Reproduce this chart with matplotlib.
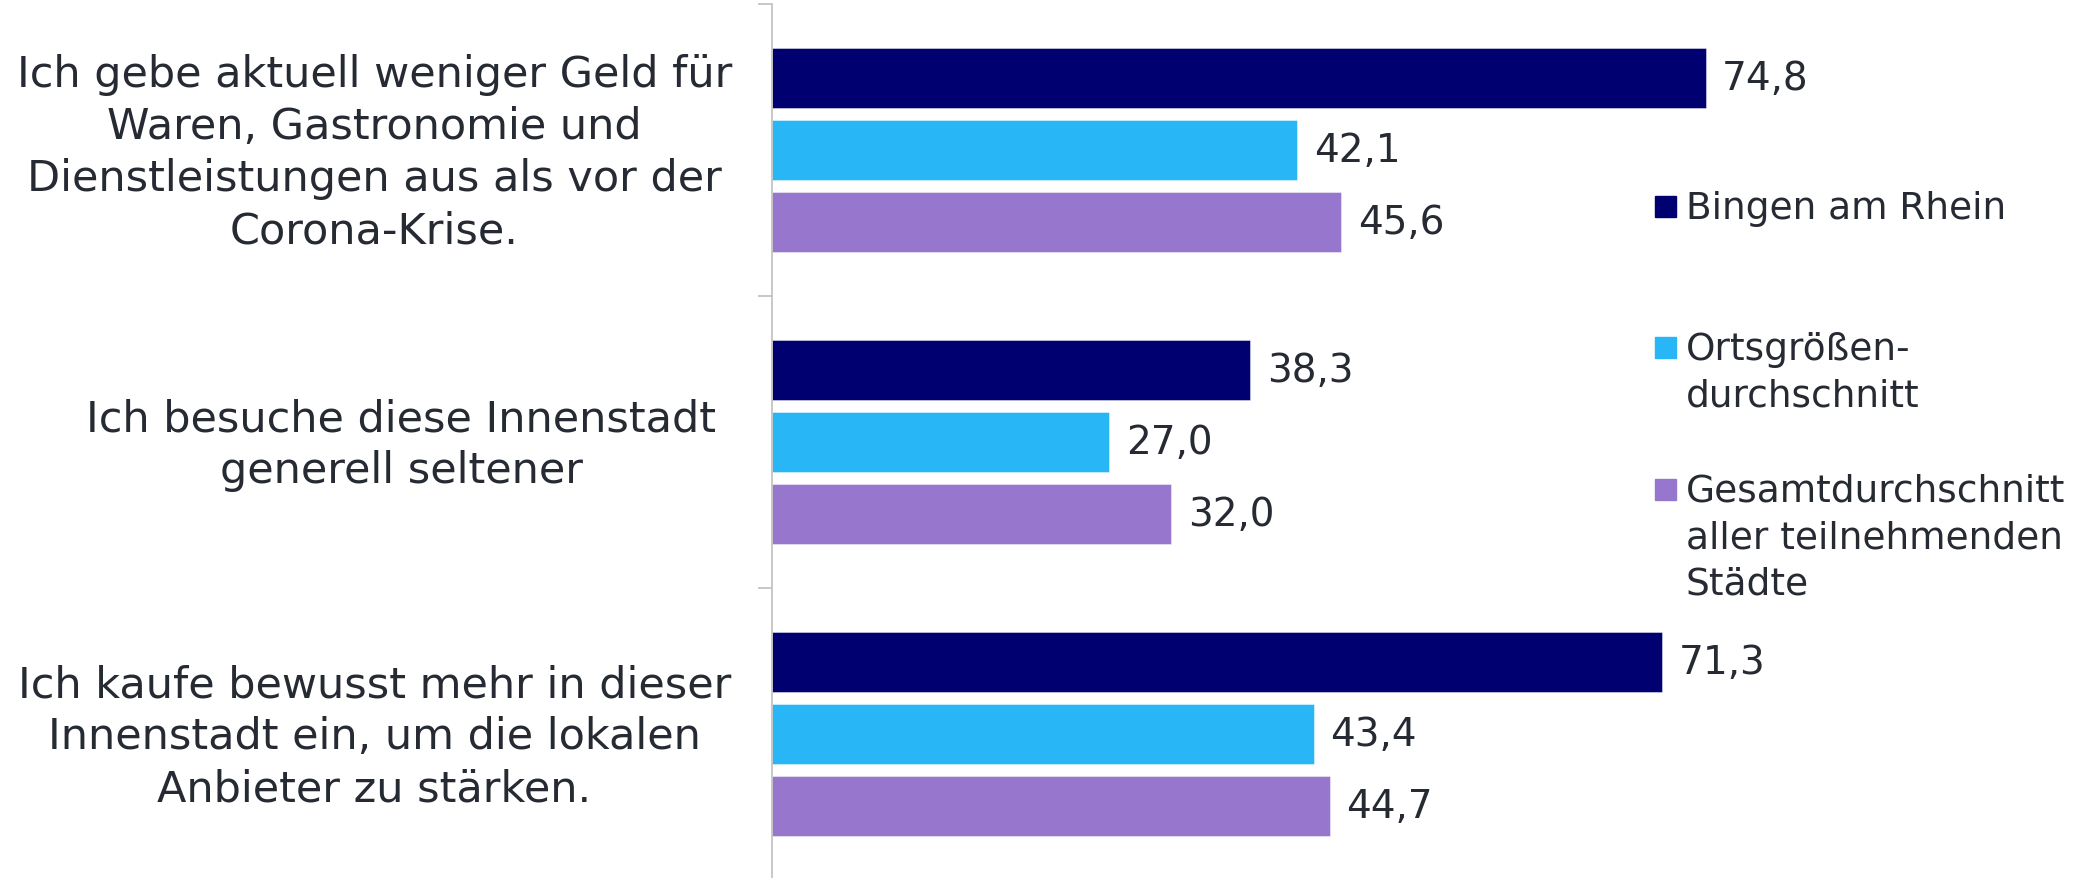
import matplotlib
matplotlib.use("Agg")
import matplotlib.pyplot as plt
import numpy as np
from matplotlib.transforms import blended_transform_factory, offset_copy

categories = [
    "Ich gebe aktuell weniger Geld für\nWaren, Gastronomie und\nDienstleistungen aus als vor der\nCorona-Krise.",
    "Ich besuche diese Innenstadt\ngenerell seltener",
    "Ich kaufe bewusst mehr in dieser\nInnenstadt ein, um die lokalen\nAnbieter zu stärken.",
]
series_names = [
    "Bingen am Rhein",
    "Ortsgrößen-\ndurchschnitt",
    "Gesamtdurchschnitt\naller teilnehmenden\nStädte",
]
bingen = [74.8, 38.3, 71.3]
ortsgroesse = [42.1, 27.0, 43.4]
gesamt = [45.6, 32.0, 44.7]
series_values = [bingen, ortsgroesse, gesamt]
colors = ["#000070", "#29B6F6", "#9777CD"]
text_color = "#262A33"

W, H = 2082, 879
fig = plt.figure(figsize=(W / 100, H / 100), dpi=100)
ax_left = 772 / W
ax_top_px = 4.7
ax = fig.add_axes([ax_left, 0, 1 - ax_left, 1 - ax_top_px / H])

px_per_cat = 292.0
ax_h_px = H - ax_top_px
ax.set_ylim(-0.5 + ax_h_px / px_per_cat, -0.5)
ax.set_xlim(0, (W - 772) / 12.48)

y = np.arange(len(categories))
step = 0.246
height = 0.2055
for i, (vals, col) in enumerate(zip(series_values, colors)):
    bars = ax.barh(y + (i - 1) * step, vals, height=height, color=col,
                   edgecolor=(1, 1, 1, 0.5), linewidth=0.6)
    ax.bar_label(bars, labels=[f"{v:.1f}".replace(".", ",") for v in vals],
                 padding=12, fontsize=28, color=text_color)

# axes styling
for s in ["top", "right", "bottom"]:
    ax.spines[s].set_visible(False)
ax.spines["left"].set_color("#BFBFBF")
ax.spines["left"].set_linewidth(1.2)
ax.set_xticks([])
ax.set_yticks([])
ax.set_yticks([-0.5, 0.5, 1.5], minor=True)
ax.tick_params(axis="y", which="minor", length=10, width=1.2, color="#BFBFBF")

# category labels
trans = blended_transform_factory(fig.transFigure, ax.transData)
trans = offset_copy(trans, fig=fig, x=0, y=-2.5, units="dots")
label_x = [374.5, 401, 374.5]
for yi, (lab, lx) in enumerate(zip(categories, label_x)):
    ax.text(lx / W, yi, lab, transform=trans, ha="center", va="center",
            fontsize=31, color=text_color, linespacing=1.3)

# legend (fixed slots)
leg_marker_x = 1655
leg_text_x = 1686
leg_centers = [207.5, 348.5, 490]
for name, col, cy in zip(series_names, colors, leg_centers):
    fig.patches.append(plt.Rectangle((leg_marker_x / W, 1 - (cy + 10.5) / H), 21 / W, 21 / H,
                                     transform=fig.transFigure, color=col, figure=fig))
    fig.text(leg_text_x / W, 1 - (cy - 16) / H, name, ha="left", va="top",
             fontsize=27, color=text_color, linespacing=1.36)

fig.savefig("out.png", dpi=100)
